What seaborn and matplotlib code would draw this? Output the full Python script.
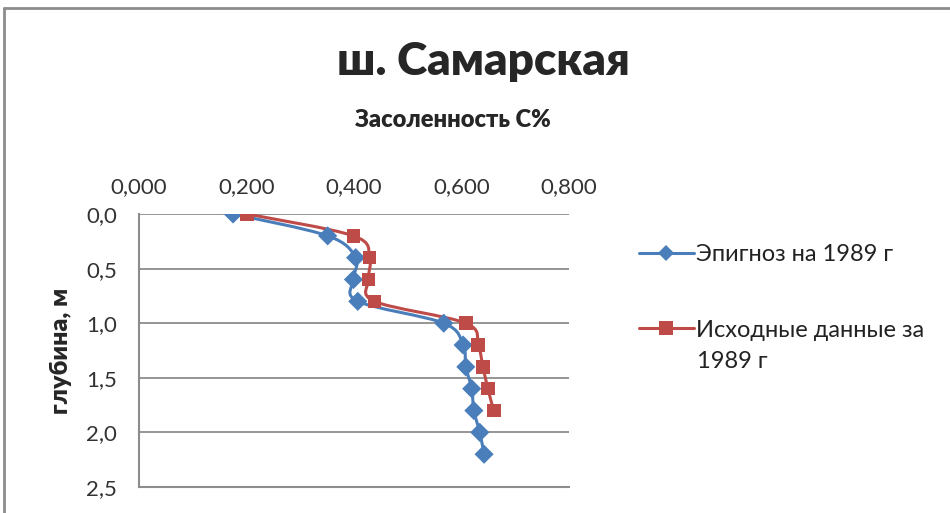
import numpy as np
import pandas as pd
import matplotlib
matplotlib.use("Agg")
import matplotlib.pyplot as plt
from matplotlib.path import Path
from matplotlib.patches import PathPatch
from matplotlib.lines import Line2D
import matplotlib.ticker as mticker
import seaborn as sns

# Depth (m) and salinity C%
depth_forecast = [0.0, 0.2, 0.4, 0.6, 0.8, 1.0, 1.2, 1.4, 1.6, 1.8, 2.0, 2.2]
salt_forecast = [0.175, 0.351, 0.403, 0.399, 0.407, 0.567, 0.603, 0.608, 0.619, 0.623, 0.634, 0.642]

depth_source = [0.0, 0.2, 0.4, 0.6, 0.8, 1.0, 1.2, 1.4, 1.6, 1.8]
salt_source = [0.201, 0.399, 0.429, 0.427, 0.438, 0.608, 0.631, 0.640, 0.649, 0.660]

series_names = ["Эпигноз на 1989 г", "Исходные данные за 1989 г"]
x_ticks = [0.0, 0.2, 0.4, 0.6, 0.8]
y_ticks = [0.0, 0.5, 1.0, 1.5, 2.0, 2.5]

blue = "#4a7ebb"
red = "#be4b48"

df = pd.concat([
    pd.DataFrame({"salt": salt_forecast, "depth": depth_forecast, "series": series_names[0]}),
    pd.DataFrame({"salt": salt_source, "depth": depth_source, "series": series_names[1]}),
])

sns.set_style("white")
plt.rcParams["font.family"] = ["Lato", "DejaVu Sans"]

fig = plt.figure(figsize=(9.5, 5.13), dpi=100)
ax = fig.add_axes([139 / 950, 1 - 487 / 513, 430 / 950, 273 / 513])


def smooth_path(xs, ys):
    # Excel-like smoothed line: cubic bezier through the points (Catmull-Rom)
    p = np.column_stack([xs, ys])
    verts = [p[0]]
    codes = [Path.MOVETO]
    n = len(p)
    for i in range(n - 1):
        p0 = p[i - 1] if i > 0 else p[i]
        p1, p2 = p[i], p[i + 1]
        p3 = p[i + 2] if i + 2 < n else p[i + 1]
        c1 = p1 + (p2 - p0) / 6
        c2 = p2 - (p3 - p1) / 6
        verts += [c1, c2, p2]
        codes += [Path.CURVE4] * 3
    return Path(verts, codes)


for name, color in zip(series_names, [blue, red]):
    sub = df[df["series"] == name]
    ax.add_patch(PathPatch(smooth_path(sub["salt"].values, sub["depth"].values),
                           facecolor="none", edgecolor=color, lw=2.2, zorder=2))

sns.scatterplot(data=df, x="salt", y="depth", hue="series", style="series",
                markers={series_names[0]: "D", series_names[1]: "s"},
                palette={series_names[0]: blue, series_names[1]: red},
                s=95, edgecolor="none", linewidth=0, ax=ax, zorder=3, legend=False)

ax.set_xlim(0, 0.8)
ax.set_ylim(2.5, 0)
ax.set_xticks(x_ticks)
ax.set_yticks(y_ticks)
ax.xaxis.set_major_formatter(mticker.FuncFormatter(lambda v, p: f"{v:.3f}".replace(".", ",")))
ax.yaxis.set_major_formatter(mticker.FuncFormatter(lambda v, p: f"{v:.1f}".replace(".", ",")))
ax.xaxis.tick_top()
ax.tick_params(axis="x", labelsize=16, colors="#333333", length=0, pad=12)
ax.tick_params(axis="y", labelsize=16, colors="#333333", length=0, pad=16)
ax.set_xlabel("")
ax.set_ylabel("глубина, м", fontsize=18, fontweight="heavy", labelpad=10)

ax.grid(axis="y", color="#8c8c8c", lw=1.3)
ax.grid(axis="x", visible=False)
for side in ["top", "right"]:
    ax.spines[side].set_visible(False)
for side in ["left", "bottom"]:
    ax.spines[side].set_color("#8c8c8c")
    ax.spines[side].set_linewidth(1.5)

fig.text(483 / 950, 1 - 62 / 513, "ш. Самарская", ha="center", va="center",
         fontsize=33, fontweight="heavy")
fig.text(453 / 950, 1 - 120 / 513, "Засоленность С%", ha="center", va="center",
         fontsize=17, fontweight="heavy")

# legend: the second label wraps in the reference, marker stays on the first line
handles = [
    Line2D([], [], color=blue, lw=2.2, marker="D", markersize=8, markeredgewidth=0),
    Line2D([], [], color=red, lw=2.2, marker="s", markersize=10, markeredgewidth=0),
]
first_line, second_line = series_names[1].rsplit(" ", 2)[0], " ".join(series_names[1].rsplit(" ", 2)[1:])
leg = fig.legend(handles, [series_names[0], first_line], loc="upper left",
                 bbox_to_anchor=(618 / 950, 1 - 223 / 513),
                 frameon=False, fontsize=17, handlelength=2.3, handletextpad=0.1,
                 labelspacing=2.3, labelcolor="#222222")
fig.text(697 / 950, 1 - 362 / 513, second_line, ha="left", va="center",
         fontsize=17, color="#222222")

# chart frame (only left and top edges are visible in the crop)
fig.add_artist(Line2D([4 / 950, 4 / 950], [0, 1 - 8 / 513], transform=fig.transFigure,
                      color="#8c8c8c", lw=2))
fig.add_artist(Line2D([4 / 950, 1], [1 - 8 / 513, 1 - 8 / 513], transform=fig.transFigure,
                      color="#8c8c8c", lw=2))

fig.savefig("out.png", dpi=100)
